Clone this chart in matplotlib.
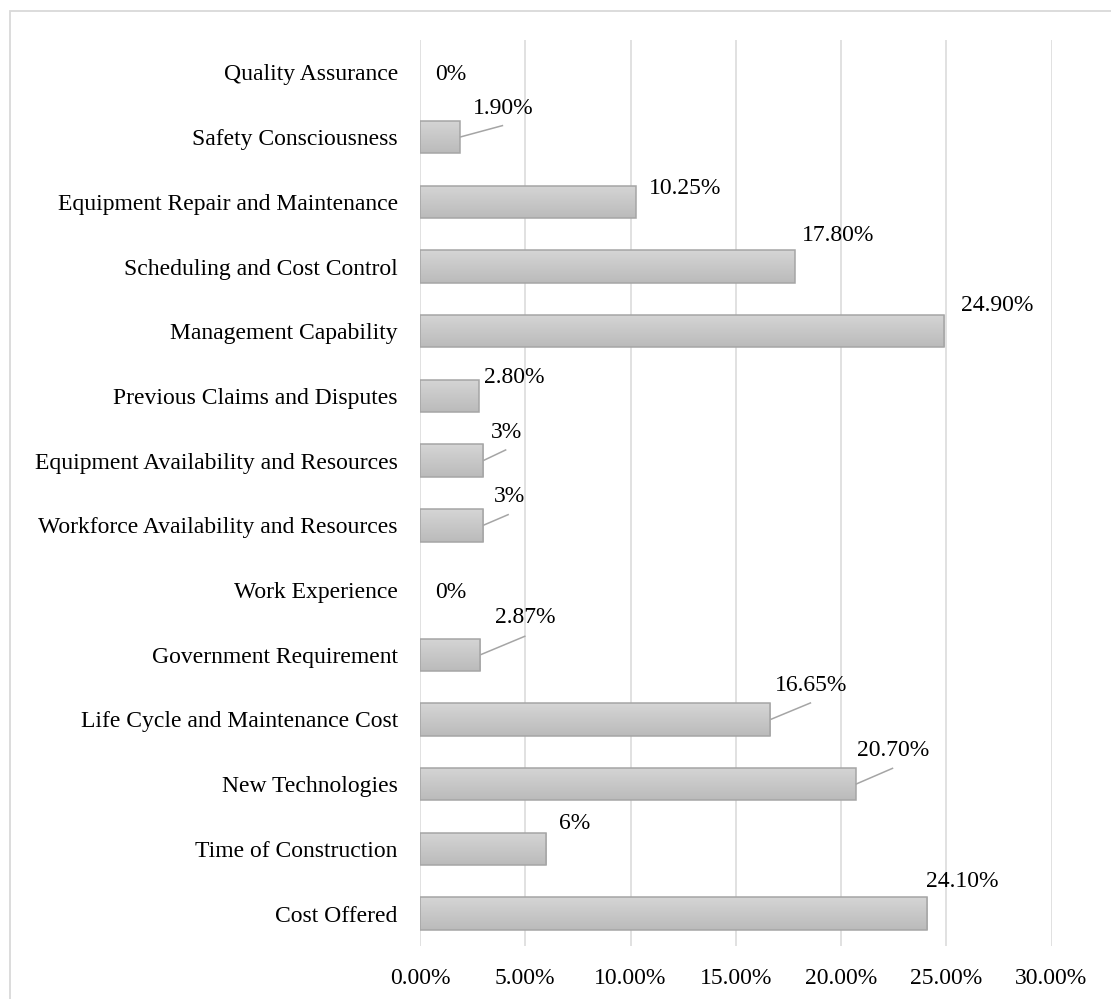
import numpy as np
import matplotlib
matplotlib.use('Agg')
import matplotlib.pyplot as plt
from matplotlib.patches import Rectangle
from matplotlib.ticker import FuncFormatter, FixedLocator

# ---- data ----
categories = ["Quality Assurance", "Safety Consciousness", "Equipment Repair and Maintenance",
              "Scheduling and Cost Control", "Management Capability", "Previous Claims and Disputes",
              "Equipment Availability and Resources", "Workforce Availability and Resources",
              "Work Experience", "Government Requirement", "Life Cycle and Maintenance Cost",
              "New Technologies", "Time of Construction", "Cost Offered"]
values = [0, 1.90, 10.25, 17.80, 24.90, 2.80, 3, 3, 0, 2.87, 16.65, 20.70, 6, 24.10]
value_labels = ["0%", "1.90%", "10.25%", "17.80%", "24.90%", "2.80%", "3%", "3%", "0%",
                "2.87%", "16.65%", "20.70%", "6%", "24.10%"]
xticks = [0, 5, 10, 15, 20, 25, 30]

# ---- label layout (style) ----
label_dx = [0.71, 0.60, 0.61, 0.32, 0.80, 0.26, 0.36, 0.51, 0.71, 0.67, 0.22, 0.07, 0.60, -0.07]
label_dy = [0.04, -0.44, -0.20, -0.48, -0.40, -0.28, -0.44, -0.45, 0.04, -0.57, -0.53, -0.52, -0.40, -0.49]
leader_end = {1: (2.05, -0.18), 6: (1.10, -0.17), 7: (1.22, -0.17),
              9: (2.14, -0.29), 10: (1.93, -0.26), 11: (1.78, -0.25)}

plt.rcParams['font.family'] = ['Liberation Serif', 'DejaVu Serif']
FS = 17

fig = plt.figure(figsize=(11.11, 9.99), dpi=100)
ax = fig.add_axes([420/1111, 1 - 946/999, (1051.5 - 420)/1111, (946 - 40)/999])

y = np.arange(len(categories))
edge_widths = [1.1 if v > 0 else 0 for v in values]
bars = ax.barh(y, values, height=0.5, color='none', edgecolor='#a5a5a5',
               linewidth=edge_widths, zorder=3)

grad = np.linspace(0, 1, 64).reshape(-1, 1)
cmap = matplotlib.colors.LinearSegmentedColormap.from_list('g', ['#d5d5d5', '#bbbbbb'])
for b in bars:
    x0, yb = b.get_x(), b.get_y()
    w, h = b.get_width(), b.get_height()
    if w <= 0:
        continue
    im = ax.imshow(grad, cmap=cmap, aspect='auto', origin='upper',
                   extent=[x0, x0 + w, yb + h, yb], zorder=2, interpolation='bilinear')
    im.set_clip_path(b)

ax.set_xlim(0, 30)
ax.set_ylim(len(categories) - 0.5, -0.5)

ax.xaxis.set_major_locator(FixedLocator(xticks))
ax.xaxis.set_major_formatter(FuncFormatter(lambda v, p: f"{v:.2f}%"))
ax.set_yticks(y)
ax.set_yticklabels(categories)
ax.tick_params(axis='both', length=0, labelsize=FS, colors='black')
ax.tick_params(axis='y', pad=16)
ax.tick_params(axis='x', pad=16)
ax.grid(axis='x', color='#d9d9d9', linewidth=1.1, zorder=0)
ax.set_axisbelow(True)
for s in ax.spines.values():
    s.set_visible(False)

for i, (v, lab) in enumerate(zip(values, value_labels)):
    ax.text(v + label_dx[i], i + label_dy[i], lab, ha='left', va='center', fontsize=FS, zorder=5)
    if i in leader_end:
        ex, ey = leader_end[i]
        ax.plot([v, v + ex], [i, i + ey], color='#a5a5a5', linewidth=1.1, zorder=4,
                solid_capstyle='butt')

fig.add_artist(Rectangle((10/1111, -0.05), 1.2, 1 - 11/999 + 0.05, transform=fig.transFigure,
                         fill=False, edgecolor='#d9d9d9', linewidth=1.3))

fig.savefig('out.png', dpi=100)
